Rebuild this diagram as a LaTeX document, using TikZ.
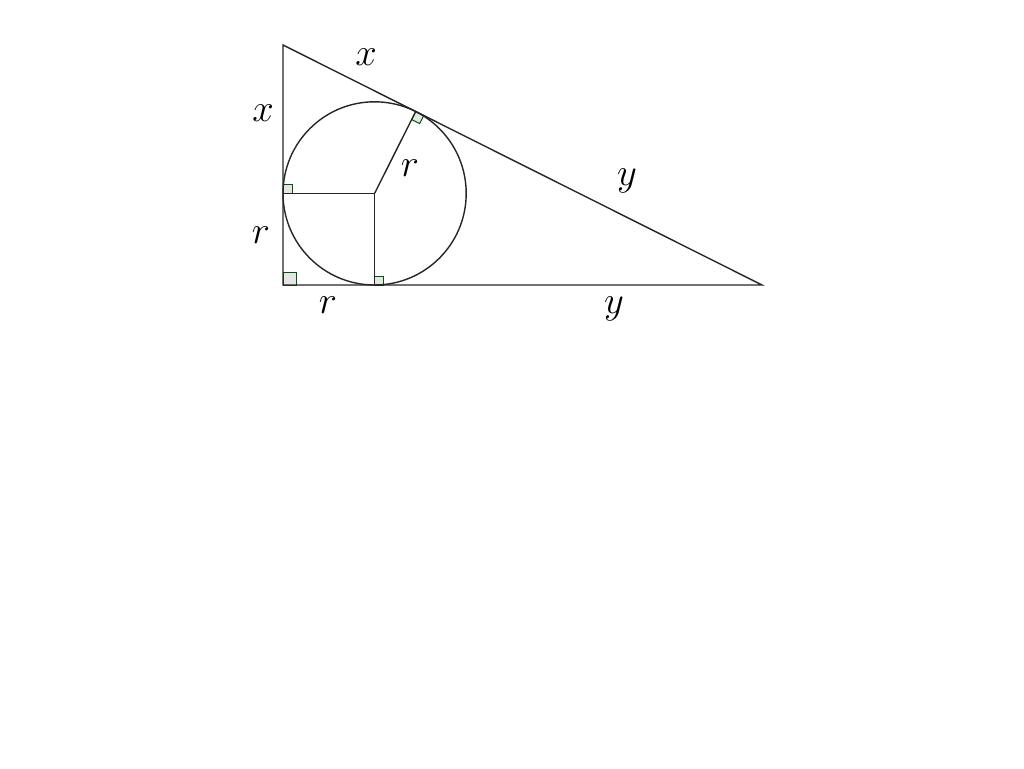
\documentclass[tikz,border=0pt]{standalone}
\usepackage{graphicx}
\usetikzlibrary{calc}
\newcommand{\biglab}[1]{\scalebox{1.55}{\Huge$#1$}}
\begin{document}
\begin{tikzpicture}[x=1pt,y=-1pt,
  edge/.style={draw=black!85,line width=1.4pt},
  ramark/.style={draw=green!35!black,fill=black!10,line width=1pt},
  lab/.style={inner sep=0pt}]
\useasboundingbox (0,0) rectangle (1024,768);
\coordinate (A) at (283,45);
\coordinate (C) at (283,285);
\coordinate (B) at (762,285);
\coordinate (O) at (374.6,193.4);
\coordinate (T1) at (283,193.4);
\coordinate (T2) at (374.6,285);
\coordinate (T3) at (415.7,111.5);
% right-angle marks
\path[ramark] (C) rectangle (296,272);
\path[ramark] (T1) rectangle (292,184.4);
\path[ramark] (T2) rectangle (383.6,276);
\path[ramark] (T3) -- (423.75,115.53) -- (419.71,123.58) -- (411.66,119.55) -- cycle;
% triangle and circle
\draw[edge] (A) -- (C) -- (B) -- cycle;
\draw[edge] (O) circle[radius=91.6];
\draw[edge] (T1) -- (O) -- (T2);
\draw[edge] (O) -- (T3);
% labels
\node[lab] (lx1) at (366,57) {\biglab{x}};
\node[lab] (lx2) at (263,113) {\biglab{x}};
\node[lab] (lr1) at (410,168) {\biglab{r}};
\node[lab] (ly1) at (627,181) {\biglab{y}};
\node[lab] (lr2) at (261,235) {\biglab{r}};
\node[lab] (lr3) at (328,305) {\biglab{r}};
\node[lab] (ly2) at (614,309) {\biglab{y}};
\end{tikzpicture}
\end{document}
